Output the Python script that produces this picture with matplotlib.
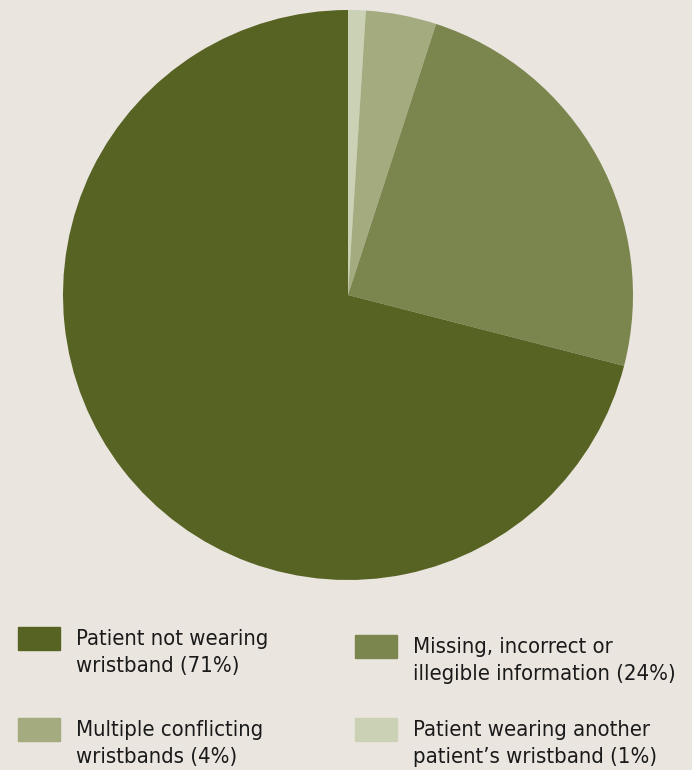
import matplotlib.pyplot as plt
from matplotlib.patches import Rectangle

labels = ['Patient wearing another\npatient\u2019s wristband (1%)',
          'Multiple conflicting\nwristbands (4%)',
          'Missing, incorrect or\nillegible information (24%)',
          'Patient not wearing\nwristband (71%)']
shares = [1, 4, 24, 71]
colors = ['#cbd1b5', '#a3ab7f', '#7b864f', '#566323']
bg = '#ebe5df'

fig = plt.figure(figsize=(6.92, 7.7), dpi=100, facecolor=bg)
W, H = 692, 770
cx, cy, r = 348, 295, 285
ax = fig.add_axes([(cx - r) / W, 1 - (cy + r) / H, 2 * r / W, 2 * r / H])
ax.pie(shares, colors=colors, startangle=90, counterclock=False,
       wedgeprops=dict(linewidth=0))
ax.set_xlim(-1, 1)
ax.set_ylim(-1, 1)
ax.set_aspect('equal')
ax.axis('off')

# legend, laid out as in the original: 2 columns, 2 rows
legend_order = [3, 2, 1, 0]
slots = [(18, 627), (355, 635), (18, 718), (355, 718)]
for k, (x, y) in zip(legend_order, slots):
    fig.patches.append(Rectangle((x / W, 1 - (y + 23) / H), 42 / W, 23 / H,
                                 transform=fig.transFigure, color=colors[k]))
    fig.text((x + 58) / W, 1 - (y + 2) / H, labels[k], fontsize=15.8,
             family='DejaVu Sans', fontstretch='condensed', color='#1a1a1a',
             va='top', ha='left', linespacing=1.45)

fig.savefig('out.png', dpi=100, facecolor=bg)
